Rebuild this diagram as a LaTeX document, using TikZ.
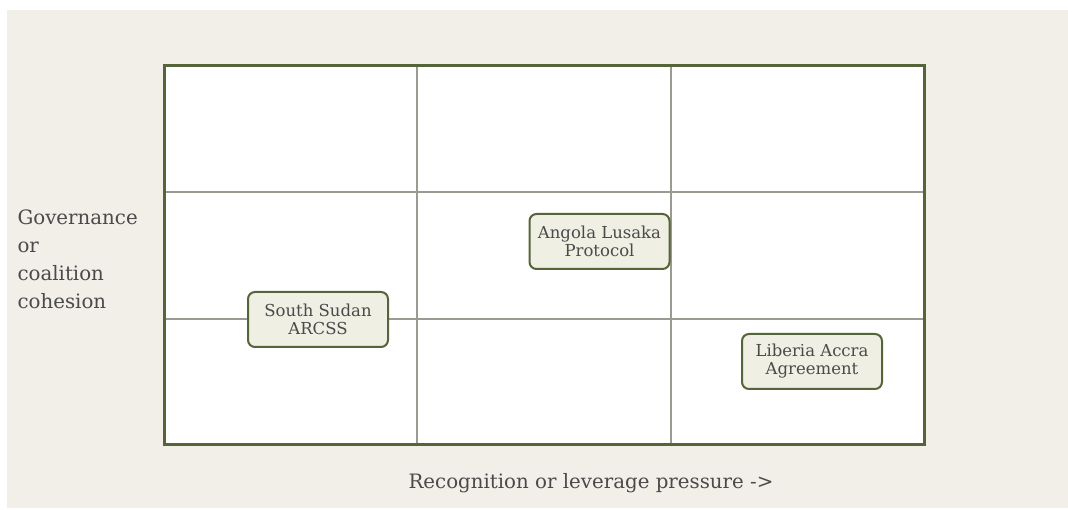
\documentclass[tikz,border=0pt]{standalone}
\usepackage{fontspec}
\setmainfont{DejaVu Serif}
\usetikzlibrary{positioning}
\definecolor{paper}{HTML}{F2EFE8}
\definecolor{olive}{HTML}{56643A}
\definecolor{gridgray}{HTML}{9A9A92}
\definecolor{boxfill}{HTML}{EFEFE4}
\definecolor{txt}{HTML}{4A4A4A}
\tikzset{
  case/.style={draw=olive, line width=2pt, fill=boxfill, rounded corners=7pt,
    minimum width=140pt, minimum height=55pt, align=center, text=txt,
    font=\fontsize{16.5pt}{18pt}\selectfont, inner sep=2pt},
  axislabel/.style={text=txt, font=\fontsize{19.8pt}{28pt}\selectfont}
}
\begin{document}
\begin{tikzpicture}[x=1pt, y=-1pt]
  % page and background
  \useasboundingbox (0,0) rectangle (1068,510);
  \fill[white] (0,0) rectangle (1068,510);
  \fill[paper] (7,10) rectangle (1068,508);
  % matrix of cells
  \fill[white] (164,66) rectangle (924,444);
  \foreach \gx in {417,671}
    \draw[gridgray, line width=1.2pt] (\gx,66) -- (\gx,444);
  \foreach \gy in {192,319}
    \draw[gridgray, line width=1.2pt] (164,\gy) -- (924,\gy);
  \draw[olive, line width=3pt] (164,66) rectangle (924,444);
  % cases
  \node[case] (sudan) at (318,319.5) {South Sudan\\ARCSS};
  \node[case] (angola) at (599.5,241.5) {Angola Lusaka\\Protocol};
  \node[case] (liberia) at (812,361.5) {Liberia Accra\\Agreement};
  % axis labels
  \node[axislabel, anchor=north west, align=left] (ylab) at (14,206)
    {Governance\\or\\coalition\\cohesion};
  \node[axislabel] (xlab) at (591,483) {Recognition or leverage pressure ->};
\end{tikzpicture}
\end{document}
